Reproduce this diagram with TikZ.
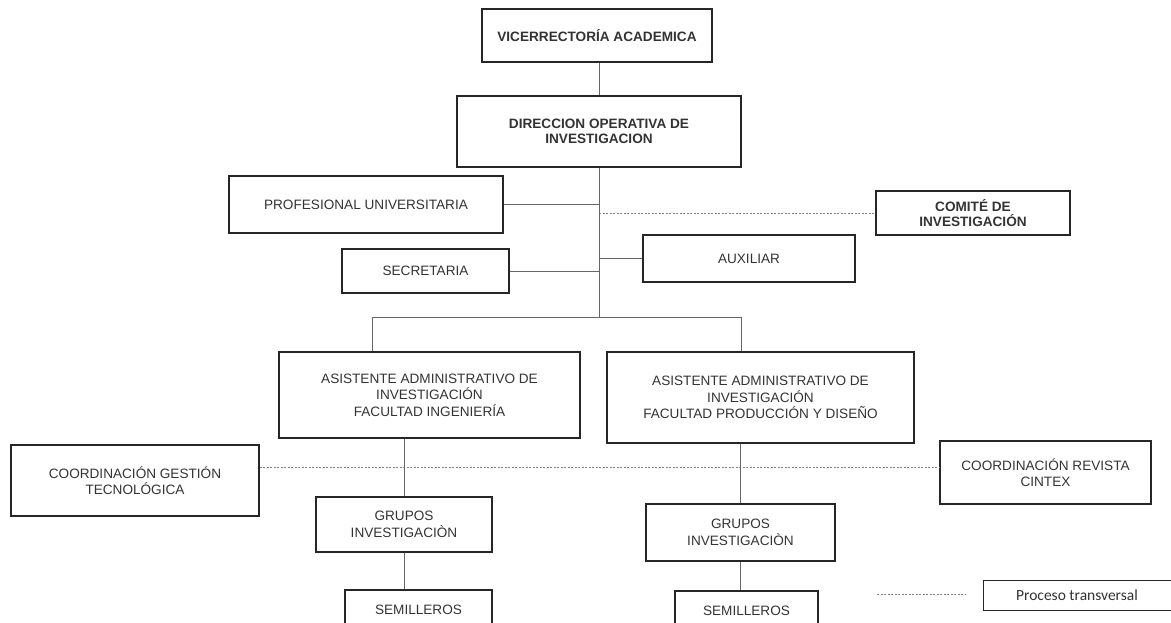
\documentclass[tikz,border=0pt]{standalone}
\usepackage{fontspec}
\setmainfont{Liberation Sans}
\newfontfamily\leyenda{Carlito}
\usetikzlibrary{positioning}

\begin{document}
\begin{tikzpicture}[x = 1pt, y = -1pt,
	caja/.style = {draw=black!85, line width=1.2pt, text=black!80, align=center, inner sep=0pt, font=\fontsize{13.6}{16.6}\selectfont},
	cajab/.style = {caja, font=\fontsize{13.6}{15}\selectfont\bfseries},
	enlace/.style = {draw=black!60, line width=0.9pt},
	transversal/.style = {draw=black!50, line width=0.9pt, dash pattern=on 2pt off 1.5pt}]
	\path[use as bounding box, clip] (0,0) rectangle (1171,622);
	% Direccion
	\node[cajab, minimum width=230, minimum height=53] (vice) at (597,35.5) {VICERRECTORÍA ACADEMICA};
	\node[cajab, minimum width=284, minimum height=71] (dir) at (599,131.5) {DIRECCION OPERATIVA DE\\INVESTIGACION};
	% Apoyo a la direccion
	\node[caja, minimum width=274, minimum height=57] (prof) at (366,204.5) {PROFESIONAL\ UNIVERSITARIA};
	\node[cajab, minimum width=194, minimum height=44] (comite) at (973,213) {COMITÉ DE\\INVESTIGACIÓN};
	\node[caja, minimum width=167, minimum height=44] (secre) at (425.5,271) {SECRETARIA};
	\node[caja, minimum width=212, minimum height=47] (aux) at (749,258.5) {AUXILIAR};
	% Facultades
	\node[caja, minimum width=301, minimum height=86] (asisI) at (429.5,395) {ASISTENTE ADMINISTRATIVO DE\\INVESTIGACIÓN\\FACULTAD INGENIERÍA};
	\node[caja, minimum width=307, minimum height=91] (asisP) at (760.5,397.5) {ASISTENTE ADMINISTRATIVO DE\\INVESTIGACIÓN\\FACULTAD PRODUCCIÓN Y DISEÑO};
	\node[caja, minimum width=248, minimum height=71] (gestion) at (135,480.5) {COORDINACIÓN GESTIÓN\\TECNOLÓGICA};
	\node[caja, minimum width=211, minimum height=63] (revista) at (1045.5,472.5) {COORDINACIÓN REVISTA\\CINTEX};
	\node[caja, minimum width=176, minimum height=55] (grupI) at (404,524.5) {GRUPOS\\INVESTIGACIÒN};
	\node[caja, minimum width=189, minimum height=57] (grupP) at (740.5,532.5) {GRUPOS\\INVESTIGACIÒN};
	\node[caja, minimum width=147, minimum height=40] (semI) at (418.5,610) {SEMILLEROS};
	\node[caja, minimum width=143, minimum height=40] (semP) at (746.5,611) {SEMILLEROS};
	% Leyenda
	\node[caja, line width=1pt, minimum width=188, minimum height=30, font=\leyenda\fontsize{15.5}{17}\selectfont] (proceso) at (1077,595) {Proceso transversal};
	\coordinate (muestraA) at (877,594);
	\coordinate (muestraB) at (965,594);
	\draw[transversal] (muestraA) -- (muestraB);
	% Tronco y ramas
	\coordinate (tronco) at (599,317);
	\coordinate (ramaI) at (372,317);
	\coordinate (ramaP) at (741,317);
	\coordinate (cruce) at (600,467);
	\draw[transversal] (cruce -| gestion.east) -- (cruce -| revista.west);   % Coordinaciones
	\draw[transversal] (comite.west -| dir.south) -- (comite.west);
	\draw[enlace] (vice.south -| dir.north) -- (dir.north);
	\draw[enlace] (dir.south) -- (tronco);
	\draw[enlace] (prof.east) -- (prof.east -| dir.south);
	\draw[enlace] (secre.east) -- (secre.east -| dir.south);
	\draw[enlace] (aux.west) -- (aux.west -| dir.south);
	\draw[enlace] (ramaI) -- (ramaP);
	\draw[enlace] (ramaI) -- (ramaI |- asisI.north);
	\draw[enlace] (ramaP) -- (ramaP |- asisP.north);
	\draw[enlace] (grupI.north |- asisI.south) -- (grupI.north);
	\draw[enlace] (grupI.south) -- (grupI.south |- semI.north);
	\draw[enlace] (grupP.north |- asisP.south) -- (grupP.north);
	\draw[enlace] (grupP.south) -- (grupP.south |- semP.north);
\end{tikzpicture}
\end{document}
